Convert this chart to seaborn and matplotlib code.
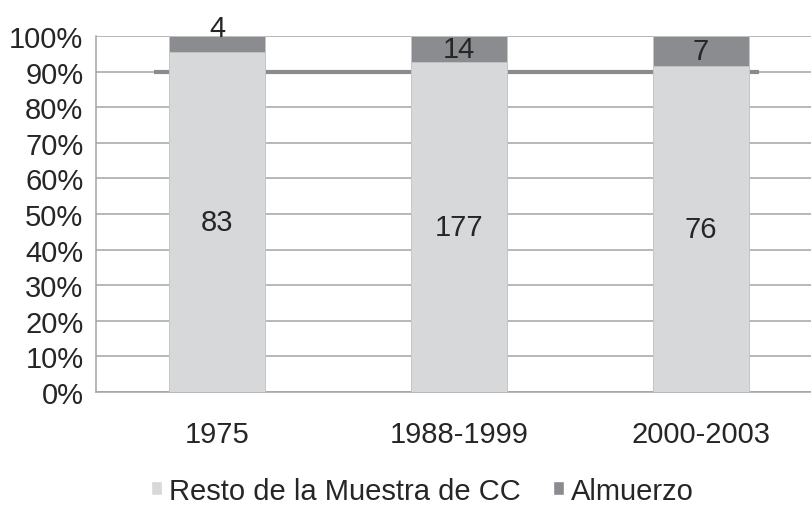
import matplotlib
matplotlib.use('Agg')
import matplotlib.pyplot as plt
import matplotlib.ticker as mtick
from matplotlib.patches import Patch
import seaborn as sns
import pandas as pd

sns.set_style('white')
plt.rcParams['font.family'] = ['Liberation Sans', 'DejaVu Sans']

# data
periods = ['1975', '1988-1999', '2000-2003']
resto = [83, 177, 76]
almuerzo = [4, 14, 7]
ref_level = 90  # reference line in %

df = pd.DataFrame({'periodo': periods, 'resto': resto, 'almuerzo': almuerzo})
df['total'] = df['resto'] + df['almuerzo']
df['resto_pct'] = df['resto'] / df['total'] * 100
df['full_pct'] = 100.0

c_light = '#d7d8da'
c_dark = '#8b8c8f'
c_grid = '#a3a4a6'
fs = 21

fig = plt.figure(figsize=(8.12, 5.10), dpi=100)
ax = fig.add_axes([96 / 812, 1 - 393 / 510, 726 / 812, 356 / 510])

# stacked 100% bars: full height in dark, resto share on top in light
sns.barplot(data=df, x='periodo', y='full_pct', color=c_dark, width=0.4,
            saturation=1, ax=ax, zorder=3)
sns.barplot(data=df, x='periodo', y='resto_pct', color=c_light, width=0.4,
            saturation=1, ax=ax, zorder=4)
for p in ax.patches:
    p.set_edgecolor('#c4c5c7')
    p.set_linewidth(0.6)

ax.hlines(ref_level, -0.26, 2.24, color='#8a8b8d', linewidth=3, zorder=2)

ax.set_ylim(0, 100)
ax.set_xlim(-0.5, 2.5)
ax.set_yticks(range(0, 101, 10))
ax.yaxis.set_major_formatter(mtick.PercentFormatter(decimals=0))
ax.yaxis.grid(True, color=c_grid, linewidth=1.1, zorder=1)
ax.set_axisbelow(True)

for side in ['top', 'right']:
    ax.spines[side].set_visible(False)
for side in ['left', 'bottom']:
    ax.spines[side].set_color(c_grid)
    ax.spines[side].set_linewidth(1.1)

ax.tick_params(axis='y', length=6, width=1.1, color=c_grid, labelsize=fs, pad=3)
ax.tick_params(axis='x', length=0, labelsize=fs, pad=20)
ax.set_xlabel('')
ax.set_ylabel('')
# category boundary ticks on x axis
ax.set_xticks([-0.5, 0.5, 1.5, 2.5], minor=True)
ax.tick_params(axis='x', which='minor', length=6, width=1.1, color=c_grid,
               direction='out')

# data labels
for i, row in df.iterrows():
    ax.text(i, row['resto_pct'] / 2, str(row['resto']), ha='center',
            va='center', fontsize=fs, zorder=5)
    top_h = 100 - row['resto_pct']
    if top_h < 6:
        ax.text(i, 100, str(row['almuerzo']), ha='center', va='baseline',
                fontsize=fs, zorder=5, clip_on=False)
    else:
        ax.text(i, row['resto_pct'] + top_h / 2, str(row['almuerzo']),
                ha='center', va='center', fontsize=fs, zorder=5)

handles = [Patch(facecolor=c_light, label='Resto de la Muestra de CC'),
           Patch(facecolor=c_dark, label='Almuerzo')]
fig.legend(handles=handles, loc='center', bbox_to_anchor=(0.52, 0.036),
           ncol=2, frameon=False, fontsize=fs, handlelength=0.38,
           handleheight=0.38, handletextpad=0.25, columnspacing=1.1)

fig.savefig('out.png', dpi=100)
